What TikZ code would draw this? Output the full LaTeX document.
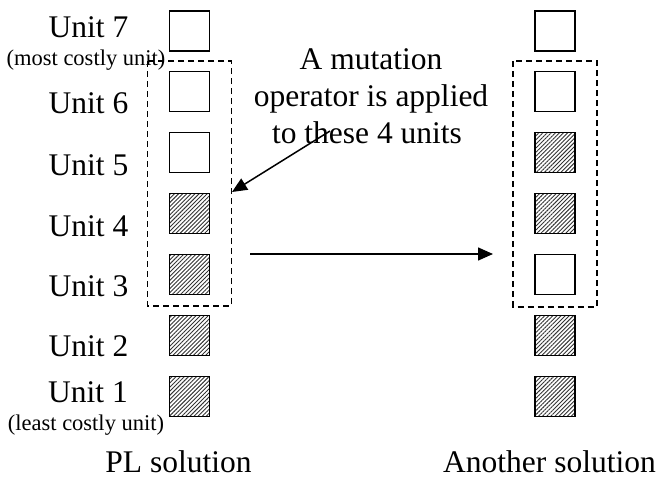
\documentclass[tikz,border=0pt]{standalone}
\usepackage{fontspec}
\setmainfont{Liberation Serif}
\usetikzlibrary{patterns.meta,arrows.meta}

\tikzset{
  unitbox/.style={draw, line width=1.6pt, minimum size=40pt, inner sep=0pt},
  filled/.style={unitbox, pattern={Lines[angle=45,distance=2.9pt,line width=0.9pt]}, pattern color=black!80},
  empty/.style={unitbox, fill=white},
  biglabel/.style={font=\fontsize{31.5}{37}\selectfont, inner sep=0pt, anchor=base},
  smalllabel/.style={font=\fontsize{22.5}{26}\selectfont, inner sep=0pt, anchor=base},
  groupbox/.style={draw, line width=1.5pt, dash pattern=on 6pt off 4pt},
  connector/.style={line width=1.5pt, -{Triangle[length=15pt,width=13pt]}}
}

\begin{document}
\begin{tikzpicture}[x=1pt, y=-1pt]
\useasboundingbox (0,0) rectangle (657,479);

% left column: PL solution
\node[empty]  (L7) at (189.5, 31)   {};
\node[empty]  (L6) at (189.5, 91.5) {};
\node[empty]  (L5) at (189.5, 152.5){};
\node[filled] (L4) at (189.5, 213.5){};
\node[filled] (L3) at (189.5, 274.5){};
\node[filled] (L2) at (189.5, 335.5){};
\node[filled] (L1) at (189.5, 396.5){};

% right column: another solution
\node[empty]  (R7) at (555, 31)   {};
\node[empty]  (R6) at (555, 91.5) {};
\node[filled] (R5) at (555, 152.5){};
\node[filled] (R4) at (555, 213.5){};
\node[empty]  (R3) at (555, 274.5){};
\node[filled] (R2) at (555, 335.5){};
\node[filled] (R1) at (555, 396.5){};

% groups of four mutated units
\draw[groupbox] ([xshift=-21pt,yshift=9.5pt]L6.north west) rectangle ([xshift=21pt,yshift=-10.5pt]L3.south east);
\draw[groupbox] ([xshift=-21pt,yshift=9.5pt]R6.north west) rectangle ([xshift=21pt,yshift=-11.5pt]R3.south east);

% unit labels
\node[biglabel] (t7) at (88.5, 37.3)  {Unit 7};
\node[smalllabel] (t7b) at (86, 65.5) {(most costly unit)};
\node[biglabel] (t6) at (88.5, 113.3) {Unit 6};
\node[biglabel] (t5) at (88.5, 175)   {Unit 5};
\node[biglabel] (t4) at (88.5, 236)   {Unit 4};
\node[biglabel] (t3) at (88.5, 296.7) {Unit 3};
\node[biglabel] (t2) at (88.5, 356.7) {Unit 2};
\node[biglabel] (t1) at (88, 402.7)   {Unit 1};
\node[smalllabel] (t1b) at (86, 430.7) {(least costly unit)};

% captions
\node[biglabel] (pl) at (178.5, 472.5) {PL solution};
\node[biglabel] (an) at (549.5, 472.5) {Another solution};

% mutation note
\node[biglabel] (m1) at (371, 69.5) {A mutation};
\node[biglabel] (m2) at (371, 106)  {operator is applied};
\node[biglabel] (m3) at (367, 143)  {to these 4 units};

% connectors
\coordinate (noteend) at (330, 131);
\coordinate (grouptip) at (232, 192);
\draw[connector] (noteend) -- (grouptip);

\coordinate (from) at (250, 254);
\coordinate (to) at (493, 254);
\draw[connector] (from) -- (to);
\end{tikzpicture}
\end{document}
